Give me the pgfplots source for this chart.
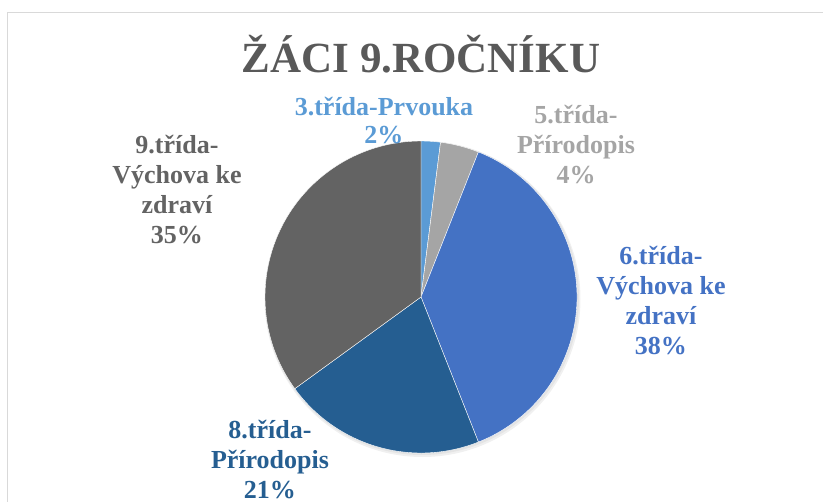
\documentclass[border=0pt]{standalone}
\usepackage{pgfplots}
\pgfplotsset{compat=1.18}
\usepackage{pgfplotstable}
\usepackage{fontspec}
\setmainfont{Liberation Serif}
\definecolor{cA}{HTML}{5B9BD5}
\definecolor{cB}{HTML}{A5A5A5}
\definecolor{cC}{HTML}{4472C4}
\definecolor{cD}{HTML}{255E91}
\definecolor{cE}{HTML}{636363}
\definecolor{ctitle}{HTML}{595959}
\definecolor{cborder}{HTML}{D9D9D9}

\pgfplotstableread{
cls pct
3 2
5 4
6 38
8 21
9 35
}\piedata

\pgfplotstablegetelem{0}{pct}\of\piedata \let\pA\pgfplotsretval
\pgfplotstablegetelem{1}{pct}\of\piedata \let\pB\pgfplotsretval
\pgfplotstablegetelem{2}{pct}\of\piedata \let\pC\pgfplotsretval
\pgfplotstablegetelem{3}{pct}\of\piedata \let\pD\pgfplotsretval
\pgfplotstablegetelem{4}{pct}\of\piedata \let\pE\pgfplotsretval
\pgfmathsetmacro\aA{90}
\pgfmathsetmacro\aB{\aA-3.6*\pA}
\pgfmathsetmacro\aC{\aB-3.6*\pB}
\pgfmathsetmacro\aD{\aC-3.6*\pC}
\pgfmathsetmacro\aE{\aD-3.6*\pD}
\pgfmathsetmacro\aF{\aE-3.6*\pE}

\begin{document}
\begin{tikzpicture}
\begin{axis}[
  hide axis, clip=false,
  x=1bp, y=1bp,
  xmin=-421, xmax=402, ymin=-205, ymax=297,
  at={(0,0)}, anchor=south west,
]
% border
\draw[cborder, line width=1.5bp] (axis cs:-413.5,-205) -- (axis cs:-413.5,284.5) -- (axis cs:402,284.5);
% shadow
\fill[black, opacity=0.06] (axis cs:1.5,-2) circle[radius=158bp];
\fill[black, opacity=0.05] (axis cs:1,-1) circle[radius=157bp];
% slices
\fill[cA, draw=white, line width=0.4bp] (axis cs:0,0) -- ++(\aA:156bp) arc[start angle=\aA, end angle=\aB, radius=156bp] -- cycle;
\fill[cB, draw=white, line width=0.4bp] (axis cs:0,0) -- ++(\aB:156bp) arc[start angle=\aB, end angle=\aC, radius=156bp] -- cycle;
\fill[cC, draw=white, line width=0.4bp] (axis cs:0,0) -- ++(\aC:156bp) arc[start angle=\aC, end angle=\aD, radius=156bp] -- cycle;
\fill[cD, draw=white, line width=0.4bp] (axis cs:0,0) -- ++(\aD:156bp) arc[start angle=\aD, end angle=\aE, radius=156bp] -- cycle;
\fill[cE, draw=white, line width=0.4bp] (axis cs:0,0) -- ++(\aE:156bp) arc[start angle=\aE, end angle=\aF, radius=156bp] -- cycle;
% title
\node[anchor=base, text=ctitle, font=\fontsize{43bp}{50bp}\selectfont\bfseries, inner sep=0pt] at (axis cs:0,224) {ŽÁCI 9.ROČNÍKU};
% labels (anchor base = baseline of the last line)
\tikzset{lbl/.style={anchor=base, align=center, inner sep=0pt, font=\fontsize{26bp}{30bp}\selectfont\bfseries}}
\node[lbl, text=cA, font=\fontsize{26bp}{28bp}\selectfont\bfseries] at (axis cs:-37,154) {3.třída-Prvouka\\\pA\%};
\node[lbl, text=cB] at (axis cs:155,114) {5.třída-\\Přírodopis\\\pB\%};
\node[lbl, text=cC] at (axis cs:240,-57) {6.třída-\\Výchova ke\\zdraví\\\pC\%};
\node[lbl, text=cD] at (axis cs:-151,-201) {8.třída-\\Přírodopis\\\pD\%};
\node[lbl, text=cE] at (axis cs:-244,54) {9.třída-\\Výchova ke\\zdraví\\\pE\%};
\end{axis}
\pgfresetboundingbox
\useasboundingbox (0,0) rectangle (823bp,502bp);
\end{tikzpicture}
\end{document}
